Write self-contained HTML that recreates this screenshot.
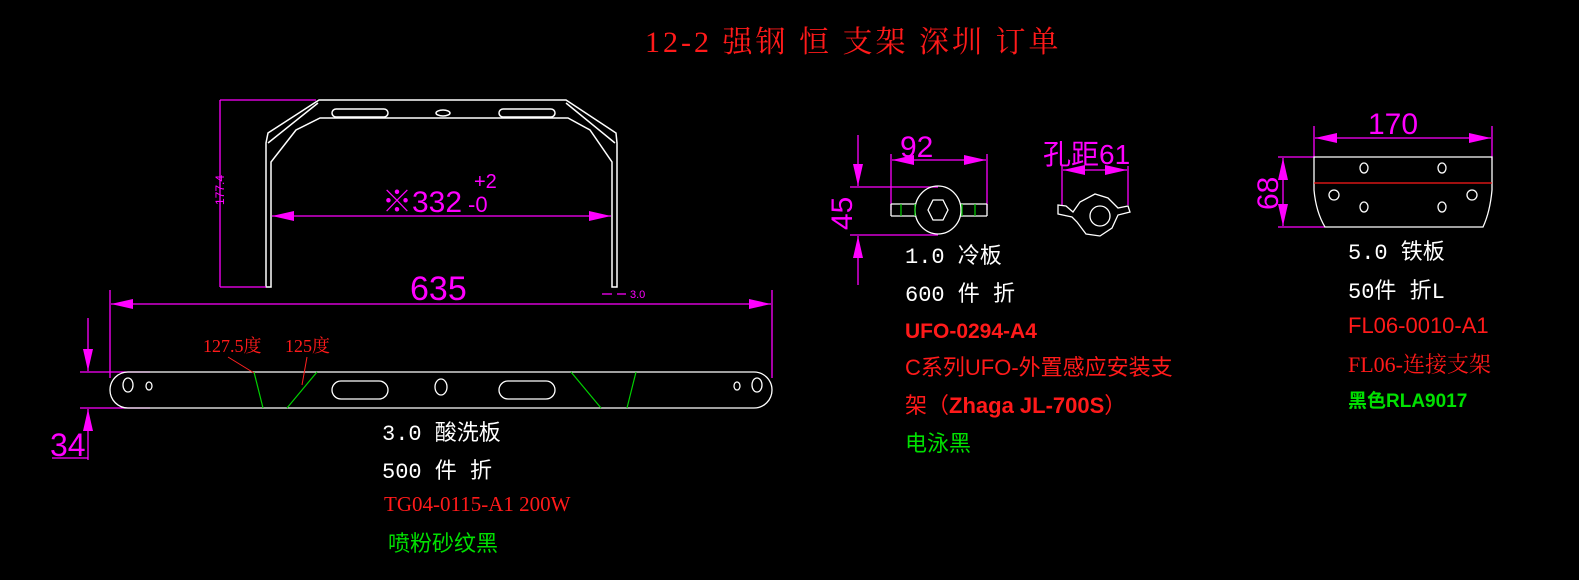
<!DOCTYPE html>
<html><head><meta charset="utf-8"><style>
html,body{margin:0;padding:0;background:#000;}
svg{display:block;}
text{font-family:"Liberation Serif","Noto Serif CJK SC","WenQuanYi Zen Hei",serif;}
text.s{font-family:"Liberation Sans","Noto Sans CJK SC",sans-serif;}
text.m{font-family:"Liberation Mono","Noto Sans CJK SC",monospace;}
</style></head><body>
<svg width="1579" height="580" viewBox="0 0 1579 580" xmlns="http://www.w3.org/2000/svg">
<rect width="1579" height="580" fill="#000"/>
<defs>
<marker id="a" viewBox="0 0 22 10" refX="22" refY="5" markerWidth="22" markerHeight="10" markerUnits="userSpaceOnUse" orient="auto"><path d="M0,0L22,5L0,10z" fill="#ff00ff"/></marker>
</defs>
<!-- title -->
<text x="645" y="52" fill="#ff1a1a" font-size="30" letter-spacing="3">12-2 强钢 恒 支架 深圳  订单</text>

<!-- U bracket -->
<g fill="none" stroke="#fff" stroke-width="1.5">
<path d="M266,287 L266,143 L268,133 L319,100 L566,100 L616,133 L617,143 L617,287 L612,287 L612,162 L590,130 L568,118 L320,118 L296,130 L271,162 L271,287 Z"/>
<path d="M268,143 L318,103 M615,143 L566,103"/>
<rect x="332" y="109" width="56" height="8" rx="4"/>
<rect x="499" y="109" width="56" height="8" rx="4"/>
<ellipse cx="443" cy="113" rx="7" ry="3"/>
</g>
<g stroke="#ff00ff" stroke-width="1.3" fill="none">
<path d="M220,100 L316,100 M220,287 L266,287 M220,100 L220,287"/>
<path d="M450,216 L272,216" marker-end="url(#a)"/>
<path d="M450,216 L611,216" marker-end="url(#a)"/>
<path d="M440,304 L111,304" marker-end="url(#a)"/>
<path d="M440,304 L771,304" marker-end="url(#a)"/>
<path d="M110,290 L110,378 M772,290 L772,378"/>
<path d="M602,294 L612,294 M617,294 L626,294"/>
<path d="M80,372 L150,372 M80,408 L150,408"/>
<path d="M88,318 L88,371" marker-end="url(#a)"/>
<path d="M88,460 L88,409" marker-end="url(#a)"/>
<path d="M52,458 L88,458"/>
</g>
<text transform="translate(224,205) rotate(-90)" fill="#ff00ff" font-size="12" class="s">177.4</text>
<text x="382" y="212" fill="#ff00ff" font-size="30" class="s">※332</text>
<text x="474" y="188" fill="#ff00ff" font-size="20" class="s">+2</text>
<text x="468" y="212" fill="#ff00ff" font-size="22" class="s">-0</text>
<text x="410" y="300" fill="#ff00ff" font-size="34" class="s">635</text>
<text x="630" y="298" fill="#ff00ff" font-size="11" class="s">3.0</text>
<text x="50" y="456" fill="#ff00ff" font-size="32" class="s">34</text>

<!-- bar -->
<g fill="none" stroke="#fff" stroke-width="1.3">
<path d="M128,372 L754,372 A18,18 0 0 1 754,408 L128,408 A18,18 0 0 1 128,372 Z"/>
<ellipse cx="128" cy="385" rx="5" ry="7"/>
<ellipse cx="149" cy="386" rx="3" ry="4"/>
<rect x="332" y="381" width="56" height="18" rx="9"/>
<rect x="499" y="381" width="56" height="18" rx="9"/>
<ellipse cx="441" cy="387" rx="6" ry="8"/>
<ellipse cx="737" cy="386" rx="3" ry="4"/>
<ellipse cx="757" cy="385" rx="5" ry="7"/>
</g>
<g stroke="#00d000" stroke-width="1.2">
<path d="M254,372 L263,408 M317,372 L287,408 M571,372 L601,408 M636,372 L627,408"/>
</g>
<g stroke="#ff2020" stroke-width="1">
<path d="M228,357 L254,373 M307,357 L302,385"/>
</g>
<text x="203" y="352" fill="#ff1a1a" font-size="18">127.5度</text>
<text x="285" y="352" fill="#ff1a1a" font-size="18">125度</text>

<text x="382" y="440" fill="#fff" font-size="22" class="m">3.0 酸洗板</text>
<text x="382" y="478" fill="#fff" font-size="22" class="m">500 件 折</text>
<text x="384" y="511" fill="#ff1a1a" font-size="21">TG04-0115-A1 200W</text>
<text x="388" y="551" fill="#00e000" font-size="22" class="s">喷粉砂纹黑</text>

<!-- middle part -->
<g stroke="#ff00ff" stroke-width="1.3" fill="none">
<path d="M891,154 L891,210 M987,154 L987,210"/>
<path d="M940,160 L892,160" marker-end="url(#a)"/>
<path d="M940,160 L986,160" marker-end="url(#a)"/>
<path d="M850,187 L938,187 M850,235 L938,235"/>
<path d="M858,135 L858,186" marker-end="url(#a)"/>
<path d="M858,285 L858,236" marker-end="url(#a)"/>
<path d="M1062,166 L1062,205 M1128,166 L1128,205"/>
<path d="M1095,170 L1063,170" marker-end="url(#a)"/>
<path d="M1095,170 L1127,170" marker-end="url(#a)"/>
</g>
<text x="900" y="157" fill="#ff00ff" font-size="30" class="s">92</text>
<text transform="translate(852,230) rotate(-90)" fill="#ff00ff" font-size="30" class="s">45</text>
<text x="1043" y="164" fill="#ff00ff" font-size="28" class="s">孔距61</text>
<g fill="none" stroke="#fff" stroke-width="1.3">
<path d="M891,204 L916,204 M891,216 L916,216 M891,204 L891,216 M960,204 L987,204 M960,216 L987,216 M987,204 L987,216"/>
<ellipse cx="938" cy="210" rx="23" ry="24"/>
<path d="M933,200 L943,200 L948,210 L943,220 L933,220 L928,210 Z"/>
<path d="M1058,205 L1066,206 L1073,212 L1080,202 L1095,194 L1108,198 L1118,208 L1128,206 L1130,212 L1118,215 L1112,228 L1100,236 L1086,234 L1077,222 L1072,217 L1058,214 Z"/>
<circle cx="1100" cy="216" r="10"/>
</g>
<g stroke="#00d000" stroke-width="1.2"><path d="M901,204 L901,216 M915,204 L915,216 M962,204 L962,216 M975,204 L975,216"/></g>

<text x="905" y="263" fill="#fff" font-size="22" class="m">1.0  冷板</text>
<text x="905" y="301" fill="#fff" font-size="22" class="m">600  件 折</text>
<text x="905" y="338" fill="#ff1a1a" font-size="21" class="s" font-weight="bold">UFO-0294-A4</text>
<text x="905" y="375" fill="#ff1a1a" font-size="22" class="s">C系列UFO-外置感应安装支</text>
<text x="905" y="413" fill="#ff1a1a" font-size="22" class="s">架（<tspan font-weight="bold">Zhaga JL-700S</tspan>）</text>
<text x="905" y="451" fill="#00e000" font-size="22" class="s">电泳黑</text>

<!-- right part -->
<g stroke="#ff00ff" stroke-width="1.3" fill="none">
<path d="M1314,126 L1314,157 M1492,126 L1492,160"/>
<path d="M1400,138 L1315,138" marker-end="url(#a)"/>
<path d="M1400,138 L1491,138" marker-end="url(#a)"/>
<path d="M1278,157 L1314,157 M1278,227 L1325,227"/>
<path d="M1283,190 L1283,158" marker-end="url(#a)"/>
<path d="M1283,190 L1283,226" marker-end="url(#a)"/>
</g>
<text x="1368" y="134" fill="#ff00ff" font-size="30" class="s">170</text>
<text transform="translate(1278,210) rotate(-90)" fill="#ff00ff" font-size="30" class="s">68</text>
<g fill="none" stroke="#fff" stroke-width="1.3">
<path d="M1314,157 L1492,157 L1492,190 Q1490,212 1483,227 L1325,227 Q1316,212 1314,190 Z"/>
<ellipse cx="1364" cy="168" rx="4" ry="5"/>
<ellipse cx="1442" cy="168" rx="4" ry="5"/>
<ellipse cx="1334" cy="195" rx="5" ry="5"/>
<ellipse cx="1472" cy="195" rx="5" ry="5"/>
<ellipse cx="1364" cy="207" rx="4" ry="5"/>
<ellipse cx="1442" cy="207" rx="4" ry="5"/>
</g>
<path d="M1314,183 L1492,183" stroke="#ff1a1a" stroke-width="1.3"/>

<text x="1348" y="259" fill="#fff" font-size="22" class="m">5.0  铁板</text>
<text x="1348" y="298" fill="#fff" font-size="22" class="m">50件  折L</text>
<text x="1348" y="333" fill="#ff1a1a" font-size="22" class="s">FL06-0010-A1</text>
<text x="1348" y="372" fill="#ff1a1a" font-size="22">FL06-连接支架</text>
<text x="1348" y="407" fill="#00e000" font-size="19" class="s" font-weight="bold">黑色RLA9017</text>
</svg>
</body></html>
